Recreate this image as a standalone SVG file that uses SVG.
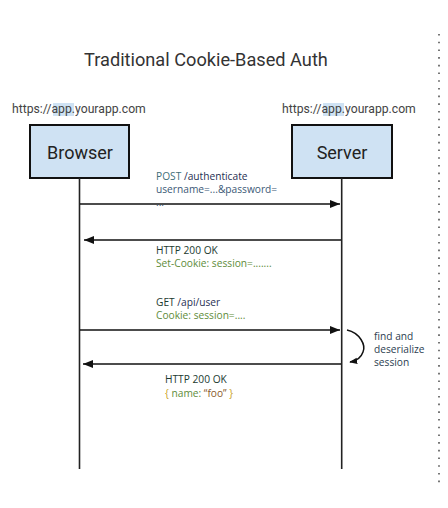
<svg xmlns="http://www.w3.org/2000/svg" width="448" height="508" viewBox="0 0 448 508">
  <defs>
    <marker id="ah" viewBox="0 0 10 8" refX="10" refY="4" markerWidth="10" markerHeight="8" markerUnits="userSpaceOnUse" orient="auto">
      <path d="M0,0 L10,4 L0,8 Z" fill="#111"/>
    </marker>
    <marker id="ahs" viewBox="0 0 10 8" refX="9" refY="4" markerWidth="8" markerHeight="7" markerUnits="userSpaceOnUse" orient="auto">
      <path d="M0,0 L10,4 L0,8 Z" fill="#111"/>
    </marker>
  </defs>
  <style>
    .title { font-family: Roboto, "Liberation Sans", sans-serif; font-size: 18.2px; fill: #333; }
    .url { font-family: Roboto, "Liberation Sans", sans-serif; font-size: 12.2px; fill: #444; }
    .hl { fill: #cfe2f3; }
    .box { fill: #cfe2f3; stroke: #111; stroke-width: 2; }
    .blabel { font-family: Roboto, "Liberation Sans", sans-serif; font-size: 18px; fill: #222; text-anchor: middle; }
    .life { stroke: #222; stroke-width: 1.6; fill: none; }
    .msg { stroke: #111; stroke-width: 1.5; fill: none; }
    .t { font-family: "Open Sans", "Liberation Sans", sans-serif; font-size: 10.2px; }
    .kw { fill: #3f6f78; }
    .path { fill: #1f2f52; }
    .blue { fill: #3b5876; }
    .dark { fill: #1c3a30; }
    .green { fill: #5e8c3a; }
    .brace { fill: #c9a227; }
    .str { fill: #8a5a2a; }
    .note { fill: #2c4050; }
  </style>
  <text class="title" x="84" y="66">Traditional Cookie-Based Auth</text>
  <line x1="439" y1="34" x2="439" y2="484" stroke="#555" stroke-width="1.6" stroke-dasharray="1.6 6.1"/>

  <g id="browser">
    <rect class="hl" x="53" y="103" width="21" height="13"/>
    <text class="url" x="12" y="113">https://app.yourapp.com</text>
    <rect class="box" x="30" y="125" width="99" height="53"/>
    <text class="blabel" x="80" y="159">Browser</text>
    <line class="life" x1="79.5" y1="178" x2="79.5" y2="469"/>
  </g>

  <g id="server">
    <rect class="hl" x="323" y="103" width="21" height="13"/>
    <text class="url" x="282" y="113">https://app.yourapp.com</text>
    <rect class="box" x="292" y="125" width="100" height="53"/>
    <text class="blabel" x="342" y="159">Server</text>
    <line class="life" x1="341.7" y1="178" x2="341.7" y2="469"/>
  </g>

  <g id="connectors">
    <line class="msg" x1="80" y1="204" x2="340" y2="204" marker-end="url(#ah)"/>
    <line class="msg" x1="341" y1="240" x2="84" y2="240" marker-end="url(#ah)"/>
    <line class="msg" x1="80" y1="330" x2="340" y2="330" marker-end="url(#ah)"/>
    <path class="msg" d="M347,330 C360,333 366,345 363,352 C361,358 356,361 350,362" marker-end="url(#ahs)"/>
    <line class="msg" x1="341" y1="364" x2="83" y2="364" marker-end="url(#ah)"/>
  </g>

  <g id="labels">
    <text class="t" x="156" y="180"><tspan class="kw">POST</tspan><tspan class="path"> /authenticate</tspan></text>
    <text class="t blue" x="156" y="193">username=...&amp;password=</text>
    <text class="t blue" x="156" y="206">...</text>
    <text class="t dark" x="156" y="254">HTTP 200 OK</text>
    <text class="t green" x="156" y="267">Set-Cookie: session=.......</text>
    <text class="t" x="156" y="306"><tspan class="dark">GET</tspan><tspan class="path"> /api/user</tspan></text>
    <text class="t green" x="156" y="319">Cookie: session=....</text>
    <text class="t note" x="374" y="340">find and</text>
    <text class="t note" x="374" y="353">deserialize</text>
    <text class="t note" x="374" y="366">session</text>
    <text class="t dark" x="165" y="383">HTTP 200 OK</text>
    <text class="t" x="165" y="397"><tspan class="brace">{</tspan><tspan class="green">  name: </tspan><tspan class="str">“foo”</tspan><tspan class="brace"> }</tspan></text>
  </g>
</svg>
